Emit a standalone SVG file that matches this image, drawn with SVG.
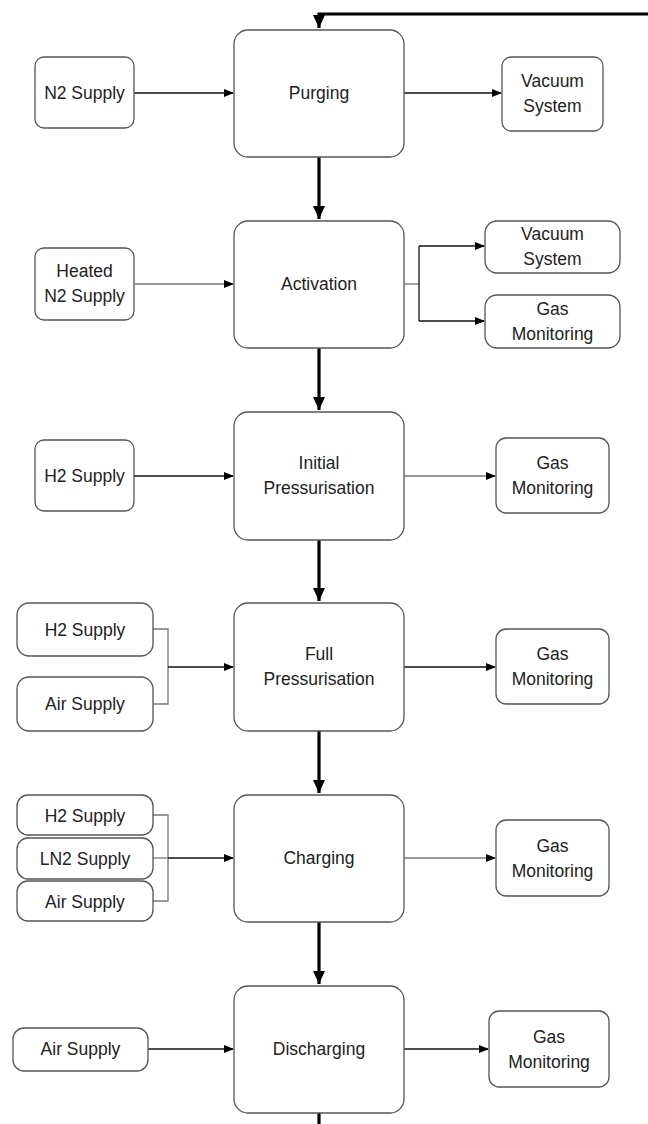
<svg xmlns="http://www.w3.org/2000/svg" width="648" height="1124" viewBox="0 0 648 1124">
<style>
.box{fill:#fff;stroke:#555;stroke-width:1.3}
.t{font-family:"Liberation Sans",Arial,sans-serif;font-size:17.5px;fill:#222;text-anchor:middle}
.thin{fill:none;stroke:#111;stroke-width:1.3}
.grey{fill:none;stroke:#777;stroke-width:1.3}
.thick{fill:none;stroke:#000;stroke-width:3.2}
</style>
<defs>
<marker id="a" markerWidth="10" markerHeight="8" refX="9" refY="4" orient="auto" markerUnits="userSpaceOnUse"><path d="M0,0 L10,4 L0,8 Z" fill="#000"/></marker>
<marker id="b" markerWidth="14" markerHeight="12" refX="13" refY="6" orient="auto" markerUnits="userSpaceOnUse"><path d="M0,0 L13,6 L0,12 Z" fill="#000"/></marker>
</defs>
<g id="connectors">
<path class="thick" d="M648,14 H319 V28" marker-end="url(#b)"/>
<path class="thick" d="M319,157 V219" marker-end="url(#b)"/>
<path class="thick" d="M319,348 V410" marker-end="url(#b)"/>
<path class="thick" d="M319,540 V601" marker-end="url(#b)"/>
<path class="thick" d="M319,731 V793" marker-end="url(#b)"/>
<path class="thick" d="M319,922 V984" marker-end="url(#b)"/>
<path class="thick" d="M319,1113 V1124"/>
<path class="thin" d="M134,93 H233" marker-end="url(#a)"/>
<path class="thin" d="M404,93 H501" marker-end="url(#a)"/>
<path class="grey" d="M134,284 H233" marker-end="url(#a)"/>
<path class="grey" d="M404,284 H419"/>
<path class="thin" d="M419,246 V321"/>
<path class="thin" d="M419,246 H484" marker-end="url(#a)"/>
<path class="thin" d="M419,321 H484" marker-end="url(#a)"/>
<path class="thin" d="M134,476 H233" marker-end="url(#a)"/>
<path class="grey" d="M404,476 H495" marker-end="url(#a)"/>
<path class="grey" d="M153,629 H168 V704 H153"/>
<path class="thin" d="M168,667 H233" marker-end="url(#a)"/>
<path class="thin" d="M404,667 H495" marker-end="url(#a)"/>
<path class="grey" d="M153,815 H168 V901 H153"/>
<path class="grey" d="M153,858 H168"/>
<path class="thin" d="M168,858 H233" stroke-width="1.8" marker-end="url(#a)"/>
<path class="grey" d="M404,858 H495" marker-end="url(#a)"/>
<path class="thin" d="M148,1049 H233" marker-end="url(#a)"/>
<path class="thin" d="M404,1049 H488" marker-end="url(#a)"/>
</g>
<g id="purging"><rect class="box" x="234" y="30" width="170" height="127" rx="14"/><text class="t" x="319" y="99">Purging</text></g>
<g id="activation"><rect class="box" x="234" y="221" width="170" height="127" rx="14"/><text class="t" x="319" y="290">Activation</text></g>
<g id="initial"><rect class="box" x="234" y="412" width="170" height="128" rx="14"/><text class="t" x="319" y="469">Initial</text><text class="t" x="319" y="494">Pressurisation</text></g>
<g id="full"><rect class="box" x="234" y="603" width="170" height="128" rx="14"/><text class="t" x="319" y="660">Full</text><text class="t" x="319" y="685">Pressurisation</text></g>
<g id="charging"><rect class="box" x="234" y="795" width="170" height="127" rx="14"/><text class="t" x="319" y="864">Charging</text></g>
<g id="discharging"><rect class="box" x="234" y="986" width="170" height="127" rx="14"/><text class="t" x="319" y="1055">Discharging</text></g>

<g id="n2supply"><rect class="box" x="35" y="57" width="99" height="71" rx="9"/><text class="t" x="84.5" y="99">N2 Supply</text></g>
<g id="heatedn2"><rect class="box" x="35" y="248" width="99" height="72" rx="9"/><text class="t" x="84.5" y="277">Heated</text><text class="t" x="84.5" y="302">N2 Supply</text></g>
<g id="h2supply1"><rect class="box" x="35" y="440" width="99" height="71" rx="9"/><text class="t" x="84.5" y="482">H2 Supply</text></g>
<g id="h2supply2"><rect class="box" x="17" y="603" width="136" height="53" rx="12"/><text class="t" x="85" y="636">H2 Supply</text></g>
<g id="airsupply1"><rect class="box" x="17" y="677" width="136" height="54" rx="12"/><text class="t" x="85" y="710">Air Supply</text></g>
<g id="h2supply3"><rect class="box" x="17" y="795" width="136" height="40" rx="11"/><text class="t" x="85" y="822">H2 Supply</text></g>
<g id="ln2supply"><rect class="box" x="17" y="838" width="136" height="41" rx="11"/><text class="t" x="85" y="865">LN2 Supply</text></g>
<g id="airsupply2"><rect class="box" x="17" y="881" width="136" height="40" rx="11"/><text class="t" x="85" y="908">Air Supply</text></g>
<g id="airsupply3"><rect class="box" x="13" y="1028" width="135" height="43" rx="11"/><text class="t" x="80.5" y="1055">Air Supply</text></g>

<g id="vacuum1"><rect class="box" x="502" y="57" width="101" height="74" rx="9"/><text class="t" x="552.5" y="87">Vacuum</text><text class="t" x="552.5" y="112">System</text></g>
<g id="vacuum2"><rect class="box" x="485" y="221" width="135" height="52" rx="12"/><text class="t" x="552.5" y="240">Vacuum</text><text class="t" x="552.5" y="265">System</text></g>
<g id="gasmon1"><rect class="box" x="485" y="295" width="135" height="53" rx="12"/><text class="t" x="552.5" y="315">Gas</text><text class="t" x="552.5" y="340">Monitoring</text></g>
<g id="gasmon2"><rect class="box" x="496" y="438" width="113" height="75" rx="10"/><text class="t" x="552.5" y="469">Gas</text><text class="t" x="552.5" y="494">Monitoring</text></g>
<g id="gasmon3"><rect class="box" x="496" y="629" width="113" height="75" rx="10"/><text class="t" x="552.5" y="660">Gas</text><text class="t" x="552.5" y="685">Monitoring</text></g>
<g id="gasmon4"><rect class="box" x="496" y="820" width="113" height="76" rx="10"/><text class="t" x="552.5" y="852">Gas</text><text class="t" x="552.5" y="877">Monitoring</text></g>
<g id="gasmon5"><rect class="box" x="489" y="1011" width="120" height="76" rx="10"/><text class="t" x="549" y="1043">Gas</text><text class="t" x="549" y="1068">Monitoring</text></g>
</svg>
